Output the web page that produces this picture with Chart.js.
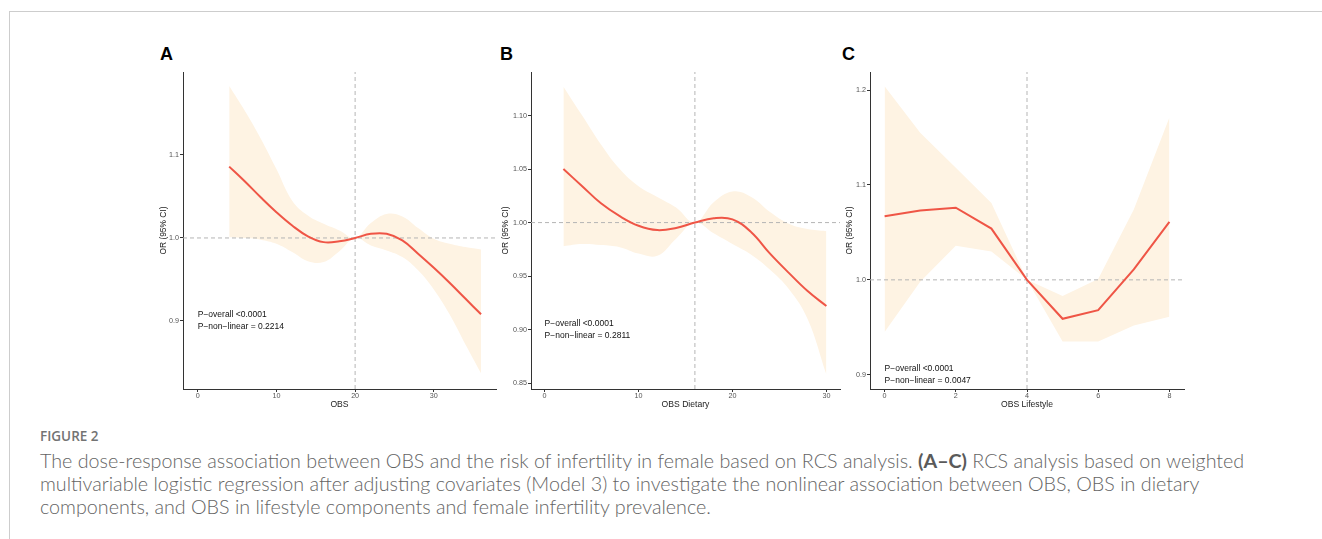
<!DOCTYPE html>
<html><head><meta charset="utf-8">
<script src="https://cdn.jsdelivr.net/npm/chart.js@4.4.1/dist/chart.umd.min.js"></script>
<style>
html,body{margin:0;padding:0;background:#fff;}
body{width:1322px;height:539px;position:relative;overflow:hidden;font-family:'Liberation Sans',Arial,sans-serif;}
#frame{position:absolute;left:9px;top:11px;width:1313px;height:528px;border-top:1px solid #cdcdcd;border-left:1px solid #cdcdcd;}
canvas{position:absolute;}
.letter{position:absolute;font:bold 18px 'Liberation Sans',Arial,sans-serif;color:#000;line-height:18px;}
.cap{position:absolute;left:40px;font-family:Lato,'Open Sans',sans-serif;font-weight:300;color:#646464;white-space:nowrap;line-height:23px;}
.cap b{font-weight:700;color:#5a5a5a;}
#figlabel{position:absolute;left:40px;top:428px;font-family:'Open Sans',Lato,sans-serif;font-weight:600;font-size:13.5px;color:#737373;line-height:16px;}
</style></head><body>
<div id="frame"></div>
<div class="letter" style="left:160px;top:45px">A</div>
<div class="letter" style="left:500px;top:45px">B</div>
<div class="letter" style="left:842px;top:45px">C</div>
<canvas id="cA" width="350" height="380" style="left:150px;top:40px"></canvas>
<canvas id="cB" width="352" height="380" style="left:490px;top:40px"></canvas>
<canvas id="cC" width="355" height="380" style="left:835px;top:40px"></canvas>
<div id="figlabel">FIGURE 2</div>
<div class="cap" id="cap1" style="top:449px">The dose-response association between OBS and the risk of infertility in female based on RCS analysis. <b>(A–C)</b> RCS analysis based on weighted</div>
<div class="cap" id="cap2" style="top:472px">multivariable logistic regression after adjusting covariates (Model 3) to investigate the nonlinear association between OBS, OBS in dietary</div>
<div class="cap" id="cap3" style="top:495px">components, and OBS in lifestyle components and female infertility prevalence.</div>
<script>
// ---------- Panel A: OBS ----------
const xA     = [4, 6, 8, 10, 12, 14, 16, 18, 20, 22, 24, 26, 28, 30, 32, 34, 36];
const orA    = [1.086, 1.068, 1.049, 1.031, 1.015, 1.002, 0.995, 0.996, 1.000, 1.005, 1.005, 0.997, 0.981, 0.964, 0.946, 0.927, 0.908];
const upperA = [1.183, 1.153, 1.120, 1.083, 1.045, 1.027, 1.017, 1.009, 1.000, 1.018, 1.029, 1.026, 1.012, 0.999, 0.993, 0.989, 0.986];
const lowerA = [1.001, 1.000, 0.998, 0.993, 0.983, 0.972, 0.971, 0.984, 1.000, 0.991, 0.985, 0.977, 0.961, 0.938, 0.908, 0.872, 0.837];
const refA   = {x: 20, y: 1.0};
const xTicksA = [0, 10, 20, 30];
const yTicksA = [0.9, 1.0, 1.1];
const yTickLabelsA = ['0.9', '1.0', '1.1'];
const pTextA = ['P\u2212overall <0.0001', 'P\u2212non\u2212linear = 0.2214'];

// ---------- Panel B: OBS Dietary ----------
const xB     = [2, 4, 6, 8, 10, 12, 14, 16, 18, 20, 22, 24, 26, 28, 30];
const orB    = [1.050, 1.034, 1.018, 1.006, 0.997, 0.993, 0.995, 1.000, 1.004, 1.003, 0.991, 0.971, 0.953, 0.936, 0.922];
const upperB = [1.127, 1.100, 1.073, 1.050, 1.034, 1.024, 1.014, 1.000, 1.019, 1.029, 1.024, 1.010, 0.999, 0.994, 0.992];
const lowerB = [0.978, 0.980, 0.979, 0.977, 0.971, 0.969, 0.985, 1.000, 0.990, 0.980, 0.970, 0.956, 0.938, 0.910, 0.858];
const refB   = {x: 16, y: 1.0};
const xTicksB = [0, 10, 20, 30];
const yTicksB = [0.85, 0.90, 0.95, 1.00, 1.05, 1.10];
const yTickLabelsB = ['0.85', '0.90', '0.95', '1.00', '1.05', '1.10'];
const pTextB = ['P\u2212overall <0.0001', 'P\u2212non\u2212linear = 0.2811'];

// ---------- Panel C: OBS Lifestyle ----------
const xC     = [0, 1, 2, 3, 4, 5, 6, 7, 8];
const orC    = [1.067, 1.073, 1.076, 1.054, 1.000, 0.959, 0.968, 1.011, 1.061];
const upperC = [1.204, 1.155, 1.118, 1.081, 1.000, 0.983, 1.001, 1.074, 1.171];
const lowerC = [0.945, 0.998, 1.036, 1.030, 1.000, 0.935, 0.935, 0.952, 0.961];
const refC   = {x: 4, y: 1.0};
const xTicksC = [0, 2, 4, 6, 8];
const yTicksC = [0.9, 1.0, 1.1, 1.2];
const yTickLabelsC = ['0.9', '1.0', '1.1', '1.2'];
const pTextC = ['P\u2212overall <0.0001', 'P\u2212non\u2212linear = 0.0047'];

// ---------- styling ----------
const LINE_COLOR = '#ef5546';
const BAND_COLOR = '#fef3e3';
const REF_COLOR  = '#b5b5b5';
const AXIS_COLOR = '#333333';
const FONT = "'Liberation Sans', Arial, sans-serif";

const pTextPlugin = {
  id: 'ptext',
  afterDatasetsDraw(chart, args, opts) {
    if (!opts || !opts.lines) return;
    const {ctx} = chart;
    const xs = chart.scales.x, ys = chart.scales.y;
    ctx.save();
    ctx.font = '8.5px ' + FONT;
    ctx.fillStyle = '#111';
    ctx.textAlign = 'left';
    ctx.textBaseline = 'middle';
    opts.lines.forEach((t, i) => ctx.fillText(t, xs.getPixelForValue(opts.x), ys.getPixelForValue(opts.y[i])));
    ctx.restore();
  }
};

function pts(xs, ys) { return xs.map((x, i) => ({x: x, y: ys[i]})); }

function build(id, p) {
  const common = {pointRadius: 0, pointHoverRadius: 0, tension: p.smooth ? 0.4 : 0};
  const datasets = [
    Object.assign({label: 'OR', data: pts(p.x, p.or), borderColor: LINE_COLOR, borderWidth: 2, fill: false, order: 0}, common),
    {label: 'vref', data: [{x: p.ref.x, y: p.ymin}, {x: p.ref.x, y: p.ymax}], borderColor: REF_COLOR, borderWidth: 1, borderDash: [4, 3], pointRadius: 0, fill: false, order: 1},
    {label: 'href', data: [{x: p.xmin, y: p.ref.y}, {x: p.xmax, y: p.ref.y}], borderColor: REF_COLOR, borderWidth: 1, borderDash: [4, 3], pointRadius: 0, fill: false, order: 1},
    Object.assign({label: 'upper', data: pts(p.x, p.upper), borderWidth: 0, borderColor: 'rgba(0,0,0,0)', backgroundColor: BAND_COLOR, fill: 4, order: 2}, common),
    Object.assign({label: 'lower', data: pts(p.x, p.lower), borderWidth: 0, borderColor: 'rgba(0,0,0,0)', backgroundColor: BAND_COLOR, fill: false, order: 3}, common)
  ];
  return new Chart(document.getElementById(id), {
    type: 'line',
    data: {datasets: datasets},
    plugins: [pTextPlugin],
    options: {
      responsive: false, animation: false, devicePixelRatio: 1,
      layout: {padding: {top: 32, right: p.padRight, bottom: 0, left: 0}},
      plugins: {legend: {display: false}, tooltip: {enabled: false},
                ptext: {lines: p.ptext, x: 0, y: p.ptextY}},
      scales: {
        x: {
          type: 'linear', min: p.xmin, max: p.xmax,
          afterBuildTicks: s => { s.ticks = p.xticks.map(v => ({value: v})); },
          afterFit: s => { s.height = 31; },
          ticks: {font: {family: FONT, size: 7.2}, color: '#555', padding: 0, maxRotation: 0, autoSkip: false,
                  callback: v => String(v)},
          grid: {drawOnChartArea: false, drawTicks: true, tickLength: 3, color: AXIS_COLOR, lineWidth: 1},
          border: {display: true, color: AXIS_COLOR, width: 1},
          title: {display: true, text: p.xtitle, font: {family: FONT, size: 8.6}, color: '#222', padding: {top: 0, bottom: 9.8}}
        },
        y: {
          type: 'linear', min: p.ymin, max: p.ymax,
          afterBuildTicks: s => { s.ticks = p.yticks.map(v => ({value: v})); },
          afterFit: s => { s.width = p.yWidth; },
          ticks: {font: {family: FONT, size: 7.2}, color: '#555', padding: 1, autoSkip: false,
                  callback: (v, i) => p.ylabels[i]},
          grid: {drawOnChartArea: false, drawTicks: true, tickLength: 3, color: AXIS_COLOR, lineWidth: 1},
          border: {display: true, color: AXIS_COLOR, width: 1},
          title: {display: true, text: 'OR (95% CI)', font: {family: FONT, size: 8.4}, color: '#222', padding: {top: p.yTitlePad, bottom: 0}}
        }
      }
    }
  });
}

build('cA', {smooth: true, x: xA, or: orA, upper: upperA, lower: lowerA, ref: refA,
  xmin: -1.87, xmax: 37.9, ymin: 0.818, ymax: 1.2, xticks: xTicksA, yticks: yTicksA, ylabels: yTickLabelsA,
  xtitle: 'OBS', ptext: pTextA, ptextY: [0.907, 0.893], yWidth: 33, padRight: 4, yTitlePad: 8.3});
build('cB', {smooth: true, x: xB, or: orB, upper: upperB, lower: lowerB, ref: refB,
  xmin: -1.45, xmax: 31.45, ymin: 0.8445, ymax: 1.1407, xticks: xTicksB, yticks: yTicksB, ylabels: yTickLabelsB,
  xtitle: 'OBS Dietary', ptext: pTextB, ptextY: [0.9057, 0.8945], yWidth: 41, padRight: 2, yTitlePad: 10.6});
build('cC', {smooth: false, x: xC, or: orC, upper: upperC, lower: lowerC, ref: refC,
  xmin: -0.41, xmax: 8.41, ymin: 0.885, ymax: 1.219, xticks: xTicksC, yticks: yTicksC, ylabels: yTickLabelsC,
  xtitle: 'OBS Lifestyle', ptext: pTextC, ptextY: [0.9063, 0.894], yWidth: 35, padRight: 6, yTitlePad: 10.0});

// fit caption font size so that the first line spans the same width as in the figure
(function fitCaption(){
  const caps = ['cap1', 'cap2', 'cap3'].map(id => document.getElementById(id));
  caps.forEach(c => c.style.fontSize = '100px');
  const w = caps[0].getBoundingClientRect().width;
  const size = 100 * 1205 / w;
  caps.forEach(c => c.style.fontSize = size.toFixed(2) + 'px');
})();
</script>
</body></html>
